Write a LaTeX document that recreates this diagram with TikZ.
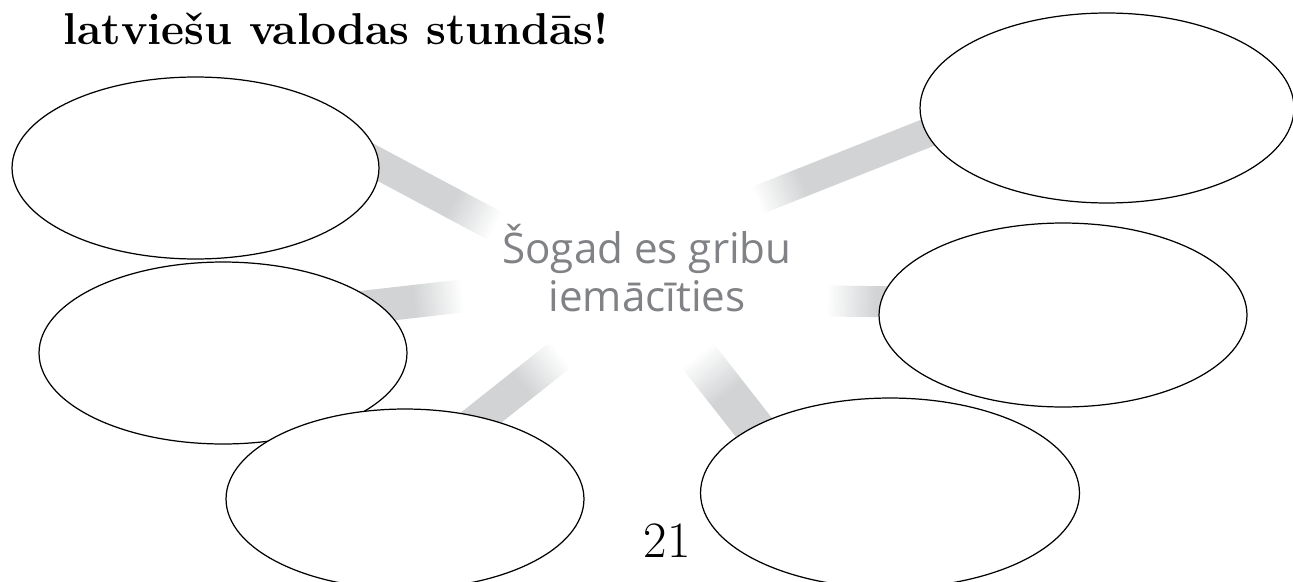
\documentclass[tikz,border=0pt]{standalone}
\usepackage{fontspec}
\usepackage{tikz}
\usetikzlibrary{calc,shapes}
\newfontfamily\goalfont{Open Sans}
\definecolor{spokegray}{RGB}{209,211,212}
\definecolor{goalgray}{RGB}{128,130,133}
\tikzstyle{bubble} = [ellipse, draw, fill=white, line width=0.7pt, inner sep=0pt]
\tikzstyle{spoke} = [draw, line cap=butt]

\begin{document}
\begin{tikzpicture}[x=0.02cm, y=-0.02cm]
    \useasboundingbox (0,0) rectangle (1293,581);
    % Spoke ends
    \coordinate (tlin) at (495,226);
    \coordinate (tlout) at (330,138);
    \coordinate (mlin) at (462,296);
    \coordinate (mlout) at (330,311);
    \coordinate (blin) at (560,355);
    \coordinate (blout) at (415,470);
    \coordinate (brin) at (698,356);
    \coordinate (brout) at (795,480);
    \coordinate (mrin) at (828,301);
    \coordinate (mrout) at (980,303);
    \coordinate (trin) at (758,200);
    \coordinate (trout) at (1000,104);
    % Spokes
    \foreach \a/\b/\w in {tlin/tlout/0.62cm, mlin/mlout/0.66cm, blin/blout/0.66cm,
                          brin/brout/0.80cm, mrin/mrout/0.62cm, trin/trout/0.58cm} {
      \foreach \k [evaluate=\k as \p using 5*\k+5] in {0,...,19}
        \path [spoke, line width=\w, draw=spokegray!\p!white]
          ($(\a)!\k*0.05cm!(\b)$) -- ($(\a)!\k*0.05cm+0.06cm!(\b)$);
      \path [spoke, line width=\w, draw=spokegray] ($(\a)!1cm!(\b)$) -- (\b);
    }
    % Bubbles
    \node [bubble, minimum width=7.34cm, minimum height=3.64cm] (tl) at (195.5,168) {};
    \node [bubble, minimum width=7.36cm, minimum height=3.64cm] (ml) at (223,353) {};
    \node [bubble, minimum width=7.16cm, minimum height=3.60cm] (bl) at (405,499) {};
    \node [bubble, minimum width=7.48cm, minimum height=3.80cm] (tr) at (1107,108) {};
    \node [bubble, minimum width=7.36cm, minimum height=3.68cm] (mr) at (1063,315) {};
    \node [bubble, minimum width=7.58cm, minimum height=3.80cm] (br) at (890,493) {};
    % Texts
    \node [anchor=base west, inner sep=0pt, font=\bfseries\fontsize{25.4}{30}\selectfont]
      (title) at (63,45) {latviešu valodas stundās!};
    \node [text=goalgray, align=center, font=\goalfont\fontsize{24}{27.3}\selectfont]
      (goal) at (647,268) {Šogad es gribu\\iemācīties};
    \node [anchor=base, inner sep=0pt, font=\fontsize{29}{34}\selectfont]
      (page) at (667,557) {21};
\end{tikzpicture}
\end{document}
